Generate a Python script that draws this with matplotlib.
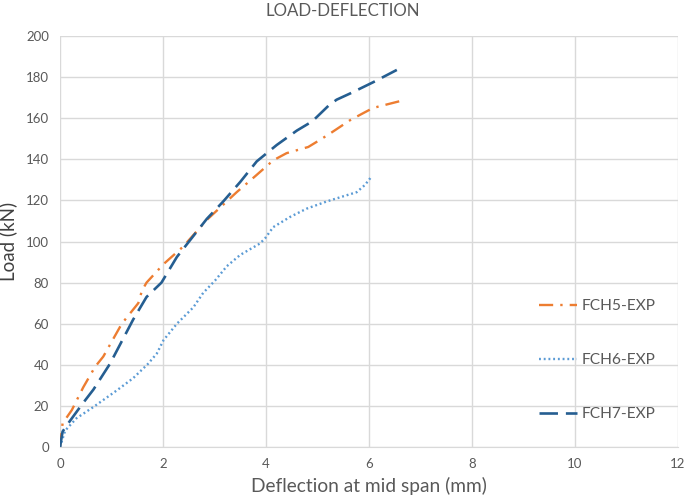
import matplotlib.pyplot as plt

# FCH5-EXP (orange, long dash-dot)
fch5_x = [0, 0.05, 0.23, 0.45, 0.68, 0.84, 1.2, 1.36, 1.52, 1.59, 1.68, 2.01, 2.39, 2.85,
          3.43, 3.8, 4.14, 4.4, 4.82, 5.05, 5.24, 5.63, 5.89, 6.08, 6.63]
fch5_y = [0, 11.5, 18, 29, 39, 44, 60, 65, 70, 76, 80, 89, 97.5, 110.5,
          124, 132, 139.5, 143, 146, 149.5, 152.5, 159, 162.5, 165, 168.5]

# FCH6-EXP (light blue, dotted)
fch6_x = [0, 0.1, 0.32, 0.65, 1.1, 1.42, 1.71, 1.88, 2.01, 2.27, 2.59, 2.78, 3.01, 3.24,
          3.5, 3.88, 3.98, 4.14, 4.47, 4.79, 5.18, 5.5, 5.76, 5.92, 6.03]
fch6_y = [0, 8, 14, 19.5, 27.5, 33.5, 40.5, 45.5, 52, 60, 68, 75, 81, 88,
          93.5, 99, 101.5, 107, 112, 116, 119.5, 122, 124, 127.5, 131]

# FCH7-EXP (dark blue, long dash)
fch7_x = [0, 0.05, 0.13, 0.42, 0.65, 0.97, 1.42, 1.68, 1.97, 2.27, 2.85, 3.17, 3.5,
          3.82, 4.21, 4.6, 4.9, 5.21, 5.37, 5.63, 6.08, 6.54]
fch7_y = [0, 7.5, 10.5, 20.5, 28, 40.5, 62, 73, 80, 92.5, 111, 119.5, 129,
          139, 147, 154, 158.5, 166, 169, 172, 177.5, 183.5]

x_ticks = [0, 2, 4, 6, 8, 10, 12]
y_ticks = list(range(0, 201, 20))

plt.rcParams['font.family'] = ['Lato', 'DejaVu Sans']

fig = plt.figure(figsize=(6.85, 5.03), dpi=100)
ax = fig.add_axes([0.0876, 0.1113, 0.9022, 0.8171])

l5, = ax.plot(fch5_x, fch5_y, color='#ED7D31', lw=1.7, dashes=(6, 3, 1, 3), label='FCH5-EXP')
l6, = ax.plot(fch6_x, fch6_y, color='#5B9BD5', lw=1.7, dashes=(0.8, 1.2), label='FCH6-EXP')
l7, = ax.plot(fch7_x, fch7_y, color='#255E91', lw=1.9, dashes=(7, 3), label='FCH7-EXP')

ax.set_xlim(0, 12)
ax.set_ylim(0, 200)
ax.set_xticks(x_ticks)
ax.set_yticks(y_ticks)
ax.grid(True, color='#D9D9D9', lw=1)
ax.set_axisbelow(True)
for s in ['top', 'right', 'left']:
    ax.spines[s].set_visible(False)
ax.spines['bottom'].set_color('#D9D9D9')
ax.tick_params(length=0, labelsize=9.5, labelcolor='#595959', pad=8)

ax.set_xlabel('Deflection at mid span (mm)', fontsize=13.8, color='#595959', labelpad=5)
ax.set_ylabel('Load (kN)', fontsize=13.5, color='#404040', labelpad=6)
fig.suptitle('LOAD-DEFLECTION', fontsize=12.2, color='#595959', y=0.995)

leg = ax.legend(handles=[l5, l6, l7], loc='upper left', bbox_to_anchor=(0.765, 0.375),
                frameon=False, fontsize=11.2, labelcolor='#595959', handlelength=2.45,
                handletextpad=0.32, labelspacing=2.58, borderaxespad=0)

fig.savefig('out.png', dpi=100)
